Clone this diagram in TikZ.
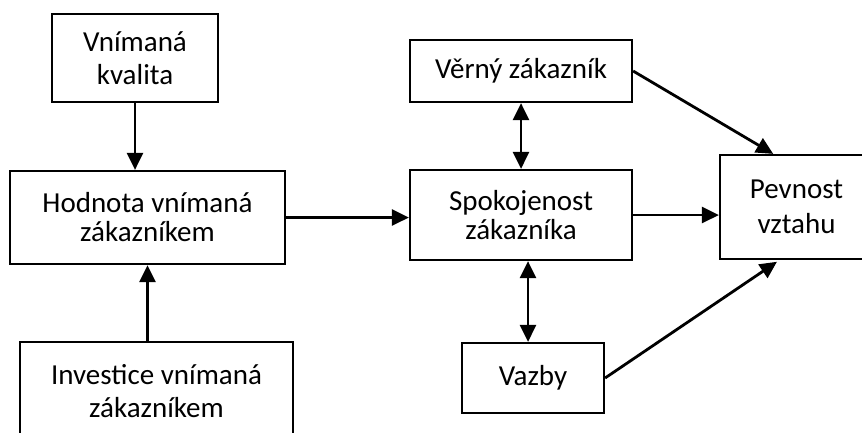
\documentclass[tikz,border=0pt]{standalone}
\usepackage{fontspec}
\setmainfont{Carlito}
\usetikzlibrary{arrows.meta,calc}

\begin{document}
\begin{tikzpicture}[x=1pt,y=-1pt,
  box/.style={draw,line width=2.2pt,align=center,inner sep=0pt,font=\fontsize{29}{#1}\selectfont},
  box/.default=34,
  arr/.style={line width=2.8pt,-{Triangle[length=17pt,width=16pt]}},
  dbl/.style={line width=2.8pt,{Triangle[length=17pt,width=16pt]}-{Triangle[length=17pt,width=16pt]}}]
\useasboundingbox (0,0) rectangle (862,432);
% left column
\node[box=36,minimum width=166pt,minimum height=88pt] (kval) at (135,58) {\raisebox{-3pt}{Vnímaná}\\kvalita};
\node[box=29,minimum width=275pt,minimum height=93pt] (hodn) at (147.5,217.5) {Hodnota vnímaná\\zákazníkem};
\node[box=33,minimum width=273pt,minimum height=98pt] (inv) at (156.5,391) {Investice vnímaná\\zákazníkem};
% middle column
\node[box,minimum width=222pt,minimum height=62pt] (verny) at (521,71) {Věrný zákazník};
\node[box=29,minimum width=222pt,minimum height=90pt] (spok) at (521,215) {Spokojenost\\zákazníka};
\node[box,minimum width=142pt,minimum height=70pt] (vazby) at (533,378) {Vazby};
% right
\node[box=35,minimum width=153pt,minimum height=104pt] (pev) at (796.5,207) {Pevnost\\vztahu};
% arrows
\draw[arr] (kval.south) -- (kval.south |- hodn.north);
\draw[arr] (hodn.south |- inv.north) -- (hodn.south);
\draw[arr] (hodn.east) -- (hodn.east -| spok.west);
\draw[dbl] (verny.south) -- (spok.north);
\draw[dbl] ($(spok.south)+(7,0)$) -- ($(vazby.north)+(-5,0)$);
\draw[arr] (spok.east) -- (spok.east -| pev.west);
\draw[arr] (verny.east) -- ($(pev.north west)!0.35!(pev.north east)$);
\draw[arr,shorten >=3pt] (vazby.east) -- ($(pev.south west)!0.39!(pev.south east)$);
\end{tikzpicture}
\end{document}
